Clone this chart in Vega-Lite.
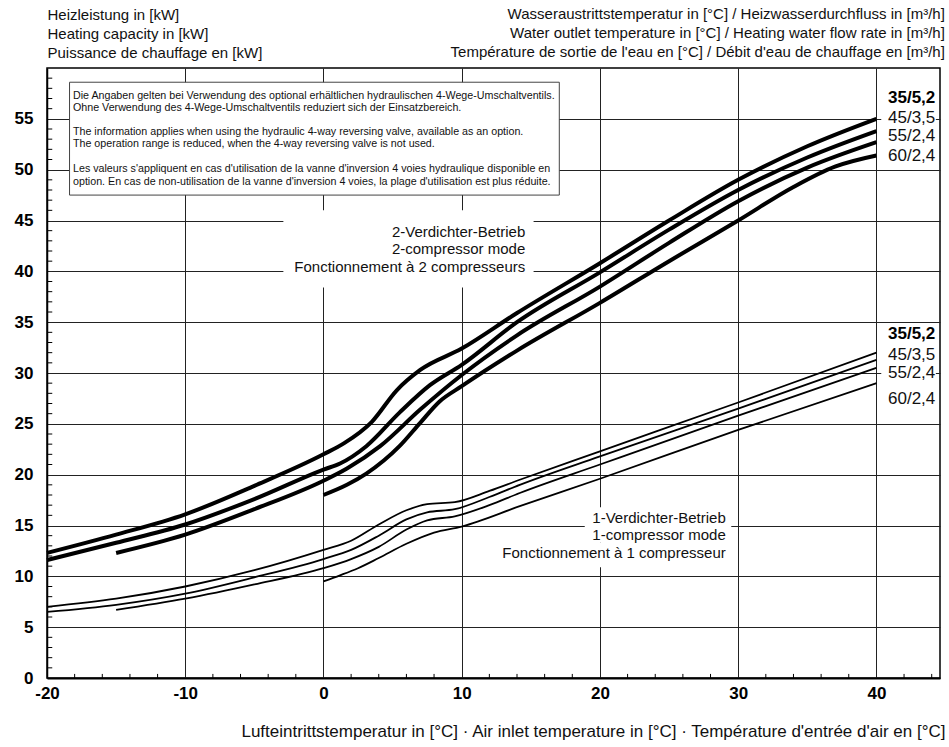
{
  "$schema": "https://vega.github.io/schema/vega-lite/v6.json",
  "width": 893,
  "height": 610,
  "autosize": {"type": "none"},
  "padding": {"left": 47, "top": 68, "right": 9, "bottom": 69},
  "background": "white",
  "config": {"view": {"stroke": "#000", "strokeWidth": 1.5}, "font": "Liberation Sans"},
  "datasets": {
    "curves": [
      {"m": "2", "s": "35/5,2", "t": -20, "p": 12.3}, {"m": "2", "s": "35/5,2", "t": -15, "p": 14.1}, {"m": "2", "s": "35/5,2", "t": -10, "p": 16.1}, {"m": "2", "s": "35/5,2", "t": -5, "p": 18.9}, {"m": "2", "s": "35/5,2", "t": 0, "p": 22.0}, {"m": "2", "s": "35/5,2", "t": 1.5, "p": 23.1}, {"m": "2", "s": "35/5,2", "t": 3.5, "p": 25.2}, {"m": "2", "s": "35/5,2", "t": 5.3, "p": 28.3}, {"m": "2", "s": "35/5,2", "t": 7, "p": 30.3}, {"m": "2", "s": "35/5,2", "t": 10, "p": 32.4}, {"m": "2", "s": "35/5,2", "t": 14, "p": 35.9}, {"m": "2", "s": "35/5,2", "t": 20, "p": 40.8}, {"m": "2", "s": "35/5,2", "t": 25, "p": 45.0}, {"m": "2", "s": "35/5,2", "t": 30, "p": 49.0}, {"m": "2", "s": "35/5,2", "t": 35, "p": 52.3}, {"m": "2", "s": "35/5,2", "t": 40, "p": 55.0},
      {"m": "2", "s": "45/3,5", "t": -20, "p": 11.6}, {"m": "2", "s": "45/3,5", "t": -15, "p": 13.3}, {"m": "2", "s": "45/3,5", "t": -10, "p": 15.1}, {"m": "2", "s": "45/3,5", "t": -5, "p": 17.6}, {"m": "2", "s": "45/3,5", "t": 0, "p": 20.5}, {"m": "2", "s": "45/3,5", "t": 1.2, "p": 21.1}, {"m": "2", "s": "45/3,5", "t": 3.1, "p": 22.8}, {"m": "2", "s": "45/3,5", "t": 5.5, "p": 26.1}, {"m": "2", "s": "45/3,5", "t": 7.7, "p": 28.8}, {"m": "2", "s": "45/3,5", "t": 10, "p": 30.8}, {"m": "2", "s": "45/3,5", "t": 14, "p": 35.0}, {"m": "2", "s": "45/3,5", "t": 20, "p": 39.9}, {"m": "2", "s": "45/3,5", "t": 25, "p": 44.1}, {"m": "2", "s": "45/3,5", "t": 30, "p": 48.0}, {"m": "2", "s": "45/3,5", "t": 35, "p": 51.2}, {"m": "2", "s": "45/3,5", "t": 40, "p": 53.8},
      {"m": "2", "s": "55/2,4", "t": -15, "p": 12.3}, {"m": "2", "s": "55/2,4", "t": -10, "p": 14.1}, {"m": "2", "s": "55/2,4", "t": -5, "p": 16.6}, {"m": "2", "s": "55/2,4", "t": 0, "p": 19.4}, {"m": "2", "s": "55/2,4", "t": 1.7, "p": 20.6}, {"m": "2", "s": "55/2,4", "t": 4.1, "p": 22.8}, {"m": "2", "s": "55/2,4", "t": 7, "p": 26.4}, {"m": "2", "s": "55/2,4", "t": 10, "p": 29.8}, {"m": "2", "s": "55/2,4", "t": 14, "p": 33.7}, {"m": "2", "s": "55/2,4", "t": 20, "p": 38.5}, {"m": "2", "s": "55/2,4", "t": 25, "p": 42.8}, {"m": "2", "s": "55/2,4", "t": 30, "p": 46.9}, {"m": "2", "s": "55/2,4", "t": 35, "p": 50.2}, {"m": "2", "s": "55/2,4", "t": 40, "p": 52.7},
      {"m": "2", "s": "60/2,4", "t": 0, "p": 18.0}, {"m": "2", "s": "60/2,4", "t": 1.7, "p": 19.0}, {"m": "2", "s": "60/2,4", "t": 3.1, "p": 20.1}, {"m": "2", "s": "60/2,4", "t": 5.5, "p": 22.8}, {"m": "2", "s": "60/2,4", "t": 7, "p": 25.1}, {"m": "2", "s": "60/2,4", "t": 8.4, "p": 27.2}, {"m": "2", "s": "60/2,4", "t": 10, "p": 28.7}, {"m": "2", "s": "60/2,4", "t": 14, "p": 32.2}, {"m": "2", "s": "60/2,4", "t": 20, "p": 36.9}, {"m": "2", "s": "60/2,4", "t": 25, "p": 41.0}, {"m": "2", "s": "60/2,4", "t": 30, "p": 45.0}, {"m": "2", "s": "60/2,4", "t": 34, "p": 48.3}, {"m": "2", "s": "60/2,4", "t": 37, "p": 50.3}, {"m": "2", "s": "60/2,4", "t": 40, "p": 51.4},
      {"m": "1", "s": "35/5,2", "t": -20, "p": 7.0}, {"m": "1", "s": "35/5,2", "t": -15, "p": 7.8}, {"m": "1", "s": "35/5,2", "t": -10, "p": 9.0}, {"m": "1", "s": "35/5,2", "t": -5, "p": 10.6}, {"m": "1", "s": "35/5,2", "t": 0, "p": 12.6}, {"m": "1", "s": "35/5,2", "t": 2, "p": 13.5}, {"m": "1", "s": "35/5,2", "t": 4, "p": 15.1}, {"m": "1", "s": "35/5,2", "t": 6, "p": 16.5}, {"m": "1", "s": "35/5,2", "t": 7.5, "p": 17.1}, {"m": "1", "s": "35/5,2", "t": 9.5, "p": 17.3}, {"m": "1", "s": "35/5,2", "t": 12, "p": 18.4}, {"m": "1", "s": "35/5,2", "t": 14.2, "p": 19.5}, {"m": "1", "s": "35/5,2", "t": 20, "p": 22.3}, {"m": "1", "s": "35/5,2", "t": 30, "p": 27.1}, {"m": "1", "s": "35/5,2", "t": 40, "p": 32.0},
      {"m": "1", "s": "45/3,5", "t": -20, "p": 6.5}, {"m": "1", "s": "45/3,5", "t": -15, "p": 7.2}, {"m": "1", "s": "45/3,5", "t": -10, "p": 8.3}, {"m": "1", "s": "45/3,5", "t": -5, "p": 9.9}, {"m": "1", "s": "45/3,5", "t": 0, "p": 11.7}, {"m": "1", "s": "45/3,5", "t": 2, "p": 12.6}, {"m": "1", "s": "45/3,5", "t": 4, "p": 14.0}, {"m": "1", "s": "45/3,5", "t": 6, "p": 15.6}, {"m": "1", "s": "45/3,5", "t": 7.5, "p": 16.3}, {"m": "1", "s": "45/3,5", "t": 9.5, "p": 16.6}, {"m": "1", "s": "45/3,5", "t": 12, "p": 17.8}, {"m": "1", "s": "45/3,5", "t": 14.2, "p": 19.0}, {"m": "1", "s": "45/3,5", "t": 20, "p": 21.8}, {"m": "1", "s": "45/3,5", "t": 30, "p": 26.5}, {"m": "1", "s": "45/3,5", "t": 40, "p": 31.3},
      {"m": "1", "s": "55/2,4", "t": -15, "p": 6.7}, {"m": "1", "s": "55/2,4", "t": -10, "p": 7.8}, {"m": "1", "s": "55/2,4", "t": -5, "p": 9.2}, {"m": "1", "s": "55/2,4", "t": 0, "p": 10.8}, {"m": "1", "s": "55/2,4", "t": 2, "p": 11.7}, {"m": "1", "s": "55/2,4", "t": 4, "p": 12.9}, {"m": "1", "s": "55/2,4", "t": 6, "p": 14.6}, {"m": "1", "s": "55/2,4", "t": 7.5, "p": 15.5}, {"m": "1", "s": "55/2,4", "t": 9.5, "p": 15.9}, {"m": "1", "s": "55/2,4", "t": 12, "p": 17.0}, {"m": "1", "s": "55/2,4", "t": 14.2, "p": 18.2}, {"m": "1", "s": "55/2,4", "t": 20, "p": 21.0}, {"m": "1", "s": "55/2,4", "t": 30, "p": 25.8}, {"m": "1", "s": "55/2,4", "t": 40, "p": 30.5},
      {"m": "1", "s": "60/2,4", "t": 0, "p": 9.5}, {"m": "1", "s": "60/2,4", "t": 1.2, "p": 10.1}, {"m": "1", "s": "60/2,4", "t": 2.5, "p": 10.8}, {"m": "1", "s": "60/2,4", "t": 4, "p": 11.8}, {"m": "1", "s": "60/2,4", "t": 6, "p": 13.2}, {"m": "1", "s": "60/2,4", "t": 8, "p": 14.3}, {"m": "1", "s": "60/2,4", "t": 10, "p": 14.9}, {"m": "1", "s": "60/2,4", "t": 14.2, "p": 16.9}, {"m": "1", "s": "60/2,4", "t": 20, "p": 19.6}, {"m": "1", "s": "60/2,4", "t": 30, "p": 24.4}, {"m": "1", "s": "60/2,4", "t": 40, "p": 29.0}
    ],
    "gaps": [
      {"x1": -2.9, "x2": 15.2, "y1": 38.4, "y2": 46.0},
      {"x1": 18.9, "x2": 29.5, "y1": 13.3, "y2": 16.8},
      {"x1": 12.1, "x2": 29.5, "y1": 10.9, "y2": 13.3},
      {"x1": 40.35, "x2": 44.3, "y1": 50.4, "y2": 58.2},
      {"x1": 40.35, "x2": 44.3, "y1": 26.6, "y2": 34.7}
    ],
    "labels": [
      {"lab": "35/5,2", "t": 42.55, "p": 57.06, "b": 1},
      {"lab": "45/3,5", "t": 42.55, "p": 55.1, "b": 0},
      {"lab": "55/2,4", "t": 42.55, "p": 53.3, "b": 0},
      {"lab": "60/2,4", "t": 42.55, "p": 51.33, "b": 0},
      {"lab": "35/5,2", "t": 42.55, "p": 33.8, "b": 1},
      {"lab": "45/3,5", "t": 42.55, "p": 31.76, "b": 0},
      {"lab": "55/2,4", "t": 42.55, "p": 29.96, "b": 0},
      {"lab": "60/2,4", "t": 42.55, "p": 27.43, "b": 0}
    ],
    "info": [
      {"txt": "Die Angaben gelten bei Verwendung des optional erhältlichen hydraulischen 4-Wege-Umschaltventils.", "t": -18.12, "p": 57.26},
      {"txt": "Ohne Verwendung des 4-Wege-Umschaltventils reduziert sich der Einsatzbereich.", "t": -18.12, "p": 56.08},
      {"txt": "The information applies when using the hydraulic 4-way reversing valve, available as an option.", "t": -18.12, "p": 53.66},
      {"txt": "The operation range is reduced, when the 4-way reversing valve is not used.", "t": -18.12, "p": 52.48},
      {"txt": "Les valeurs s'appliquent en cas d'utilisation de la vanne d'inversion 4 voies hydraulique disponible en", "t": -18.12, "p": 50.02},
      {"txt": "option. En cas de non-utilisation de la vanne d'inversion 4 voies, la plage d'utilisation est plus réduite.", "t": -18.12, "p": 48.8}
    ],
    "xminor": [{"v": -18}, {"v": -16}, {"v": -14}, {"v": -12}, {"v": -8}, {"v": -6}, {"v": -4}, {"v": -2}, {"v": 2}, {"v": 4}, {"v": 6}, {"v": 8}, {"v": 12}, {"v": 14}, {"v": 16}, {"v": 18}, {"v": 22}, {"v": 24}, {"v": 26}, {"v": 28}, {"v": 32}, {"v": 34}, {"v": 36}, {"v": 38}, {"v": 42}, {"v": 44}],
    "yminor": [{"v": 1}, {"v": 2}, {"v": 3}, {"v": 4}, {"v": 6}, {"v": 7}, {"v": 8}, {"v": 9}, {"v": 11}, {"v": 12}, {"v": 13}, {"v": 14}, {"v": 16}, {"v": 17}, {"v": 18}, {"v": 19}, {"v": 21}, {"v": 22}, {"v": 23}, {"v": 24}, {"v": 26}, {"v": 27}, {"v": 28}, {"v": 29}, {"v": 31}, {"v": 32}, {"v": 33}, {"v": 34}, {"v": 36}, {"v": 37}, {"v": 38}, {"v": 39}, {"v": 41}, {"v": 42}, {"v": 43}, {"v": 44}, {"v": 46}, {"v": 47}, {"v": 48}, {"v": 49}, {"v": 51}, {"v": 52}, {"v": 53}, {"v": 54}, {"v": 56}, {"v": 57}, {"v": 58}, {"v": 59}]
  },
  "layer": [
    {
      "data": {"name": "gaps"},
      "mark": {"type": "rect", "fill": "white", "stroke": null},
      "encoding": {
        "x": {"field": "x1", "type": "quantitative", "scale": {"domain": [-20, 44.6], "nice": false, "zero": false},
          "axis": {
            "values": [-20, -10, 0, 10, 20, 30, 40],
            "tickCount": 200,
            "labelExpr": "'' + datum.value",
            "labelOverlap": false, "labelFlush": false, "labelBound": false,
            "labelFont": "Liberation Sans", "labelFontSize": 17, "labelFontWeight": "bold", "labelColor": "#000",
            "labelBaseline": "middle", "labelPadding": 15,
            "ticks": false,
            "domainColor": "#000", "domainWidth": 2,
            "grid": true, "gridColor": "#222", "gridWidth": 1,
            "title": "Lufteintrittstemperatur in [°C] · Air inlet temperature in [°C] · Température d'entrée d'air en [°C]",
            "titleFont": "Liberation Sans", "titleFontSize": 17, "titleFontWeight": "normal", "titleColor": "#111",
            "titleAnchor": "end", "titleAlign": "right", "titleBaseline": "middle", "titleX": 898, "titleY": 53
          }},
        "x2": {"field": "x2"},
        "y": {"field": "y1", "type": "quantitative", "scale": {"domain": [0, 60], "nice": false, "zero": false},
          "axis": {
            "values": [0, 5, 10, 15, 20, 25, 30, 35, 40, 45, 50, 55],
            "tickCount": 200,
            "labelExpr": "'' + datum.value",
            "labelOverlap": false, "labelFlush": false, "labelBound": false,
            "labelFont": "Liberation Sans", "labelFontSize": 17, "labelFontWeight": "bold", "labelColor": "#000",
            "labelPadding": 14,
            "ticks": false,
            "domainColor": "#000", "domainWidth": 1.5,
            "grid": true, "gridColor": "#222", "gridWidth": 1,
            "title": ["Heizleistung in [kW]", "Heating capacity in [kW]", "Puissance de chauffage en [kW]"],
            "titleFont": "Liberation Sans", "titleFontSize": 15, "titleFontWeight": "normal", "titleColor": "#111",
            "titleAngle": 0, "titleAlign": "left", "titleBaseline": "top", "titleX": 0, "titleY": -61, "titleLineHeight": 19
          }},
        "y2": {"field": "y2"}
      }
    },
    {
      "data": {"values": [{"x1": -18.37, "x2": 17.06, "y1": 47.5, "y2": 58.6}]},
      "mark": {"type": "rect", "fill": "white", "stroke": "#444", "strokeWidth": 1},
      "encoding": {
        "x": {"field": "x1", "type": "quantitative", "scale": {"domain": [-20, 44.6], "nice": false, "zero": false}},
        "x2": {"field": "x2"},
        "y": {"field": "y1", "type": "quantitative", "scale": {"domain": [0, 60], "nice": false, "zero": false}},
        "y2": {"field": "y2"}
      }
    },
    {
      "data": {"name": "xminor"},
      "mark": {"type": "rule", "color": "#000", "strokeWidth": 1},
      "encoding": {
        "x": {"field": "v", "type": "quantitative", "scale": {"domain": [-20, 44.6], "nice": false, "zero": false}},
        "y": {"datum": 0, "type": "quantitative", "scale": {"domain": [0, 60], "nice": false, "zero": false}},
        "y2": {"datum": 0.4}
      }
    },
    {
      "data": {"name": "yminor"},
      "mark": {"type": "rule", "color": "#000", "strokeWidth": 1},
      "encoding": {
        "y": {"field": "v", "type": "quantitative", "scale": {"domain": [0, 60], "nice": false, "zero": false}},
        "x": {"datum": -20, "type": "quantitative", "scale": {"domain": [-20, 44.6], "nice": false, "zero": false}},
        "x2": {"datum": -19.62}
      }
    },
    {
      "data": {"name": "curves"},
      "mark": {"type": "line", "interpolate": "monotone", "color": "#000", "strokeCap": "butt", "strokeJoin": "round"},
      "encoding": {
        "x": {"field": "t", "type": "quantitative", "scale": {"domain": [-20, 44.6], "nice": false, "zero": false}},
        "y": {"field": "p", "type": "quantitative", "scale": {"domain": [0, 60], "nice": false, "zero": false}},
        "detail": {"field": "s", "type": "nominal"},
        "strokeWidth": {"field": "m", "type": "nominal", "scale": {"domain": ["1", "2"], "range": [1.8, 4]}, "legend": null},
        "order": {"field": "t", "type": "quantitative"}
      }
    },
    {
      "data": {"name": "labels"},
      "transform": [{"filter": "datum.b === 1"}],
      "mark": {"type": "text", "align": "center", "baseline": "middle", "fontSize": 17, "fontWeight": "bold", "font": "Liberation Sans", "color": "#000"},
      "encoding": {
        "x": {"field": "t", "type": "quantitative", "scale": {"domain": [-20, 44.6], "nice": false, "zero": false}},
        "y": {"field": "p", "type": "quantitative", "scale": {"domain": [0, 60], "nice": false, "zero": false}},
        "text": {"field": "lab"}
      }
    },
    {
      "data": {"name": "labels"},
      "transform": [{"filter": "datum.b === 0"}],
      "mark": {"type": "text", "align": "center", "baseline": "middle", "fontSize": 17, "font": "Liberation Sans", "color": "#111"},
      "encoding": {
        "x": {"field": "t", "type": "quantitative", "scale": {"domain": [-20, 44.6], "nice": false, "zero": false}},
        "y": {"field": "p", "type": "quantitative", "scale": {"domain": [0, 60], "nice": false, "zero": false}},
        "text": {"field": "lab"}
      }
    },
    {
      "data": {"values": [
        {"txt": "2-Verdichter-Betrieb\n2-compressor mode\nFonctionnement à 2 compresseurs", "t": 14.6, "p": 43.9},
        {"txt": "1-Verdichter-Betrieb\n1-compressor mode\nFonctionnement à 1 compresseur", "t": 29.1, "p": 15.75}
      ]},
      "mark": {"type": "text", "align": "right", "baseline": "middle", "fontSize": 15, "font": "Liberation Sans", "color": "#111", "lineBreak": "\n", "lineHeight": 17.5},
      "encoding": {
        "x": {"field": "t", "type": "quantitative", "scale": {"domain": [-20, 44.6], "nice": false, "zero": false}},
        "y": {"field": "p", "type": "quantitative", "scale": {"domain": [0, 60], "nice": false, "zero": false}},
        "text": {"field": "txt"}
      }
    },
    {
      "data": {"values": [
        {"txt": "Wasseraustrittstemperatur in [°C] / Heizwasserdurchfluss in [m³/h]\nWater outlet temperature in [°C] / Heating water flow rate in [m³/h]\nTempérature de sortie de l'eau en [°C] / Débit d'eau de chauffage en [m³/h]", "t": 44.95, "p": 65.29}
      ]},
      "mark": {"type": "text", "align": "right", "baseline": "middle", "fontSize": 15, "font": "Liberation Sans", "color": "#111", "lineBreak": "\n", "lineHeight": 19},
      "encoding": {
        "x": {"field": "t", "type": "quantitative", "scale": {"domain": [-20, 44.6], "nice": false, "zero": false}},
        "y": {"field": "p", "type": "quantitative", "scale": {"domain": [0, 60], "nice": false, "zero": false}},
        "text": {"field": "txt"}
      }
    },
    {
      "data": {"name": "info"},
      "mark": {"type": "text", "align": "left", "baseline": "middle", "fontSize": 10.7, "font": "Liberation Sans", "color": "#111"},
      "encoding": {
        "x": {"field": "t", "type": "quantitative", "scale": {"domain": [-20, 44.6], "nice": false, "zero": false}},
        "y": {"field": "p", "type": "quantitative", "scale": {"domain": [0, 60], "nice": false, "zero": false}},
        "text": {"field": "txt"}
      }
    }
  ]
}
